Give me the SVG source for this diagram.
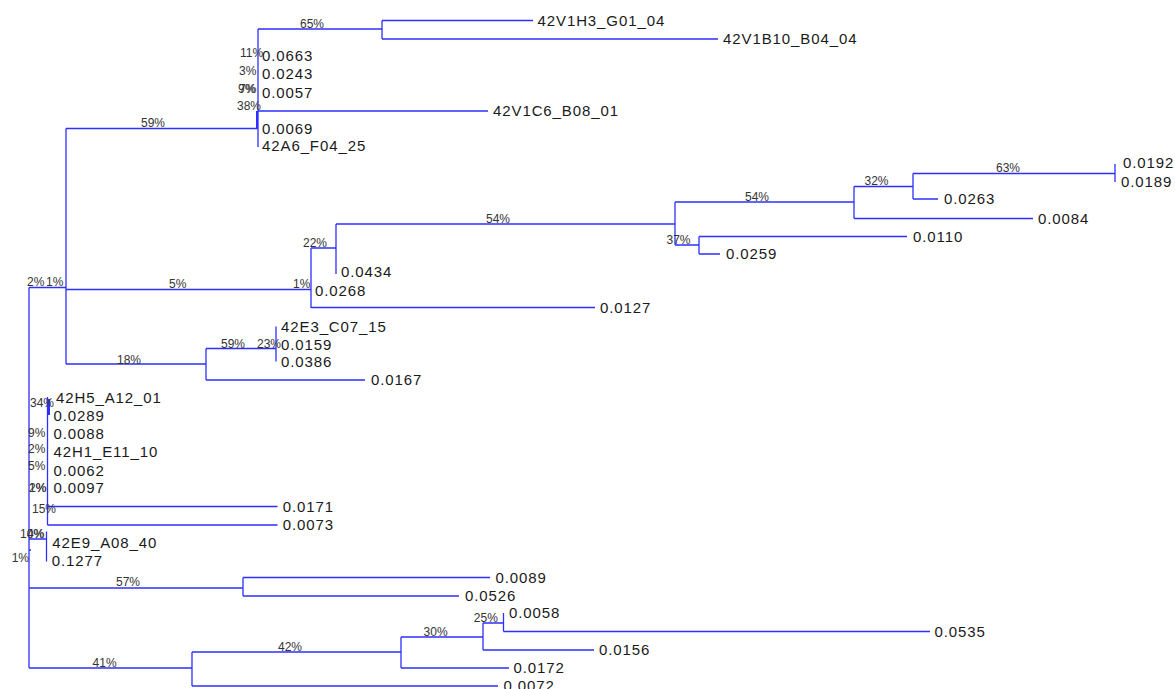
<svg xmlns="http://www.w3.org/2000/svg" width="1175" height="689" viewBox="0 0 1175 689">
<style>
.e{fill:none;stroke:#2f2fff;stroke-width:1.3}
.t{font-family:"Liberation Sans",Arial,sans-serif;font-size:15px;letter-spacing:0.9px;fill:#1a1a1a}
.p{font-family:"Liberation Sans",Arial,sans-serif;font-size:12px;fill:#333}
</style>
<rect width="1175" height="689" fill="#fff"/>
<g id="connectors">
<path class="e" d="M258,29V147M258,29H382M382,20.5V39M382,20.5H533M382,39H718M258,111H488M66,128.5H258"/>
<path class="e" d="M257,111V129" style="stroke-width:2"/>
<path class="e" d="M66,128.5V364M29,287.5H66M66,289.5H311M311,248V308M311,248H336M336,224V274M336,224H675M675,202V245M675,202H854M854,186.5V218.5M854,186.5H913M913,173.5V199M913,173.5H1115M1115,164V182M913,199H938M854,218.5H1033M675,245H699M699,236.5V254M699,236.5H907M699,254H720M311,307.5H595"/>
<path class="e" d="M66,364H206M206,348.5V380M206,348.5H276M276,326.5V361.5M206,380H365"/>
<path class="e" d="M29,287.5V668M47.5,397V525M47.5,506.5H277.5M47.5,525H277.5M29,539H46.5M46.5,531.5V561.5M29,550H31"/>
<path class="e" d="M49,399V415" style="stroke-width:2"/>
<path class="e" d="M29,588H243M243,577.5V596M243,577.5H490M243,596H459"/>
<path class="e" d="M29,668H192M192,652V686M192,652H401M192,686H498M401,637V668M401,637H483M401,668H509M483,623V650M483,623H503.5M483,650H594M503.5,613V631.5M503.5,631.5H930"/>
</g>
<g id="leaves">
<g id="n42V1H3"><text class="t" x="537.5" y="25.5">42V1H3_G01_04</text></g>
<g id="n42V1B10"><text class="t" x="723" y="43.5">42V1B10_B04_04</text></g>
<g id="l0663"><text class="t" x="262" y="61">0.0663</text></g>
<g id="l0243"><text class="t" x="262" y="79.3">0.0243</text></g>
<g id="l0057"><text class="t" x="262" y="97.7">0.0057</text></g>
<g id="n42V1C6"><text class="t" x="493" y="116">42V1C6_B08_01</text></g>
<g id="l0069"><text class="t" x="262" y="133.7">0.0069</text></g>
<g id="n42A6"><text class="t" x="262" y="151">42A6_F04_25</text></g>
<g id="l0192"><text class="t" x="1123" y="168">0.0192</text></g>
<g id="l0189"><text class="t" x="1121" y="186.7">0.0189</text></g>
<g id="l0263"><text class="t" x="944" y="204">0.0263</text></g>
<g id="l0084"><text class="t" x="1038" y="223.5">0.0084</text></g>
<g id="l0110"><text class="t" x="913" y="241.5">0.0110</text></g>
<g id="l0259"><text class="t" x="726" y="259.3">0.0259</text></g>
<g id="l0434"><text class="t" x="341" y="277.3">0.0434</text></g>
<g id="l0268"><text class="t" x="315" y="295.5">0.0268</text></g>
<g id="l0127"><text class="t" x="600" y="313">0.0127</text></g>
<g id="n42E3"><text class="t" x="281" y="331.7">42E3_C07_15</text></g>
<g id="l0159"><text class="t" x="281" y="350">0.0159</text></g>
<g id="l0386"><text class="t" x="281" y="366.7">0.0386</text></g>
<g id="l0167"><text class="t" x="371" y="385">0.0167</text></g>
<g id="n42H5"><text class="t" x="56" y="402.7">42H5_A12_01</text></g>
<g id="l0289"><text class="t" x="53.5" y="420.7">0.0289</text></g>
<g id="l0088"><text class="t" x="53.5" y="439">0.0088</text></g>
<g id="n42H1"><text class="t" x="53.5" y="457.3">42H1_E11_10</text></g>
<g id="l0062"><text class="t" x="53.5" y="475.7">0.0062</text></g>
<g id="l0097"><text class="t" x="53.5" y="493.3">0.0097</text></g>
<g id="l0171"><text class="t" x="282.7" y="511.7">0.0171</text></g>
<g id="l0073"><text class="t" x="282.7" y="530">0.0073</text></g>
<g id="n42E9"><text class="t" x="52.3" y="547.7">42E9_A08_40</text></g>
<g id="l1277"><text class="t" x="51.7" y="565.5">0.1277</text></g>
<g id="l0089"><text class="t" x="495.5" y="582.5">0.0089</text></g>
<g id="l0526"><text class="t" x="465" y="601">0.0526</text></g>
<g id="l0058"><text class="t" x="509" y="618.3">0.0058</text></g>
<g id="l0535"><text class="t" x="934.5" y="636.7">0.0535</text></g>
<g id="l0156"><text class="t" x="599" y="654.5">0.0156</text></g>
<g id="l0172"><text class="t" x="513.5" y="673">0.0172</text></g>
<g id="l0072"><text class="t" x="503.5" y="691">0.0072</text></g>
</g>
<g id="support">
<text class="p" x="300" y="28">65%</text>
<text class="p" x="240" y="57">11%</text>
<text class="p" x="239" y="75">3%</text>
<text class="p" x="238" y="93">9%</text>
<text class="p" x="239" y="93">7%</text>
<text class="p" x="237" y="110">38%</text>
<text class="p" x="141" y="127">59%</text>
<text class="p" x="27" y="286">2%</text>
<text class="p" x="46" y="286">1%</text>
<text class="p" x="169" y="288.3">5%</text>
<text class="p" x="293" y="288">1%</text>
<text class="p" x="303" y="247">22%</text>
<text class="p" x="486" y="222.5">54%</text>
<text class="p" x="745" y="200.7">54%</text>
<text class="p" x="666.5" y="244">37%</text>
<text class="p" x="864.5" y="185">32%</text>
<text class="p" x="996" y="172">63%</text>
<text class="p" x="117" y="364">18%</text>
<text class="p" x="221" y="348.3">59%</text>
<text class="p" x="257" y="348.3">23%</text>
<text class="p" x="30" y="406.7">34%</text>
<text class="p" x="28" y="436.7">9%</text>
<text class="p" x="28" y="452.7">2%</text>
<text class="p" x="28" y="470">5%</text>
<text class="p" x="29" y="491.7">1%</text>
<text class="p" x="29" y="491.7">2%</text>
<text class="p" x="32" y="513.3">15%</text>
<text class="p" x="20" y="537.7">10%</text>
<text class="p" x="27" y="537.7">4%</text>
<text class="p" x="11.7" y="561.7">1%</text>
<text class="p" x="116" y="586">57%</text>
<text class="p" x="92.6" y="666.5">41%</text>
<text class="p" x="278" y="650.5">42%</text>
<text class="p" x="423.6" y="635.5">30%</text>
<text class="p" x="473.8" y="621.5">25%</text>
</g>
</svg>
